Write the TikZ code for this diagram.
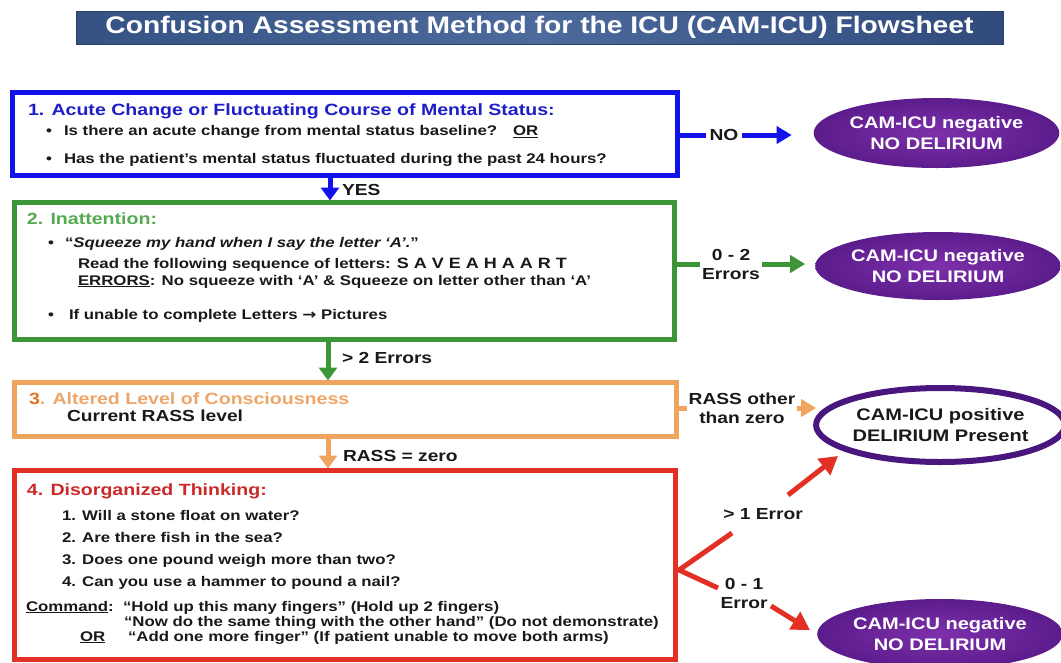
\documentclass[tikz,border=0pt]{standalone}
\usepackage{fontspec}
\setmainfont{Liberation Sans}
\newfontfamily\arrowfont{DejaVu Sans}
\usepackage{graphicx}
\usetikzlibrary{arrows.meta,shapes.geometric}
\definecolor{cBlue}{RGB}{18,18,235}
\definecolor{cBlueT}{RGB}{30,30,200}
\definecolor{cGreen}{RGB}{60,150,55}
\definecolor{cGreenT}{RGB}{85,170,80}
\definecolor{cOrange}{RGB}{240,165,95}
\definecolor{cOrangeT}{RGB}{238,165,105}
\definecolor{cOrangeD}{RGB}{225,115,35}
\definecolor{cRed}{RGB}{228,48,36}
\definecolor{cRedT}{RGB}{205,40,40}
\definecolor{cText}{RGB}{25,25,25}
\definecolor{cPurpD}{RGB}{92,28,140}
\definecolor{cPurpL}{RGB}{125,48,170}
\definecolor{cPurpB}{RGB}{72,22,125}
\definecolor{cBarL}{RGB}{52,82,132}
\definecolor{cBarM}{RGB}{76,106,156}
\definecolor{cBarR}{RGB}{48,74,124}
\newcommand{\sxx}[1]{\scalebox{1.2}[1]{#1}}
\newcommand{\fsz}[1]{\fontsize{#1}{#1}\selectfont}
\begin{document}
\begin{tikzpicture}[x=1pt,y=-1pt,
  every node/.style={inner sep=0pt, outer sep=0pt},
  stepbox/.style={draw, line width=5pt, rectangle},
  bodytxt/.style={anchor=base west, text=cText, font=\bfseries\fsz{14}},
  hdtxt/.style={anchor=base west, font=\bfseries\fsz{16.3}},
  lbl/.style={text=cText, font=\bfseries\fontsize{16}{19}\selectfont, align=center, inner sep=2pt},
  vflow/.style={line width=5pt, -{Triangle[width=18pt,length=13pt]}},
  hflow/.style={line width=5pt, -{Triangle[width=17pt,length=15pt]}},
  rflow/.style={line width=5pt, -{Triangle[width=20pt,length=18pt]}},
  hline/.style={line width=5pt},
  negell/.style={ellipse, shade, inner color=cPurpL, outer color=cPurpD, text=white,
    font=\bfseries\fontsize{16.7}{21}\selectfont, align=center},
]
\useasboundingbox (0,0) rectangle (1061,662);

% title bar
\node[minimum width=927pt, minimum height=33pt, left color=cBarL, right color=cBarR, middle color=cBarM,
  draw=cBarL!80!black, line width=0.6pt, text=white, font=\bfseries\fsz{24}] (title) at (539.5,27.5)
  {\resizebox{868pt}{\height}{Confusion Assessment Method for the ICU (CAM-ICU) Flowsheet}};

% boxes
\node[stepbox, draw=cBlue, minimum width=665pt, minimum height=83pt] (b1) at (345,134) {};
\node[stepbox, draw=cGreen, minimum width=660pt, minimum height=137pt] (b2) at (344.5,271) {};
\node[stepbox, draw=cOrange, minimum width=662pt, minimum height=54pt] (b3) at (345.5,409.5) {};
\node[stepbox, draw=cRed, minimum width=661pt, minimum height=189pt] (b4) at (345,565) {};

% box 1 text
\node[hdtxt, text=cBlueT] (t1) at (28,115) {\sxx{1. Acute Change or Fluctuating Course of Mental Status:}};
\node[bodytxt] (t1a) at (46,135.5) {\sxx{•}};
\node[bodytxt] (t1b) at (64,135.5) {\sxx{Is there an acute change from mental status baseline?\hspace{0.95em}\underline{OR}}};
\node[bodytxt] (t1c) at (46,163.5) {\sxx{•}};
\node[bodytxt] (t1d) at (64,163.5) {\sxx{Has the patient’s mental status fluctuated during the past 24 hours?}};

% box 2 text
\node[hdtxt, text=cGreenT] (t2) at (27,224.5) {\sxx{2. Inattention:}};
\node[bodytxt] (t2a) at (48,247) {\sxx{•}};
\node[bodytxt] (t2b) at (65,247) {\sxx{“\textit{Squeeze my hand when I say the letter ‘A’.}”}};
\node[bodytxt] (t2c) at (78,268) {\sxx{Read the following sequence of letters: {\fsz{15}S A V E A H A A R T}}};
\node[bodytxt] (t2d) at (78,285) {\sxx{\underline{ERRORS}: No squeeze with ‘A’ \& Squeeze on letter other than ‘A’}};
\node[bodytxt] (t2e) at (48,319) {\sxx{•}};
\node[bodytxt] (t2f) at (69,319) {\sxx{If unable to complete Letters {\arrowfont\bfseries →} Pictures}};

% box 3 text
\node[hdtxt, text=cOrangeT] (t3) at (29,404.5) {\sxx{\textcolor{cOrangeD}{3}. Altered Level of Consciousness}};
\node[bodytxt, font=\bfseries\fsz{16}] (t3a) at (67,421) {\sxx{Current RASS level}};

% box 4 text
\node[hdtxt, text=cRedT] (t4) at (27,495) {\sxx{4. Disorganized Thinking:}};
\node[bodytxt] (t4a) at (62,520) {\sxx{1. Will a stone float on water?}};
\node[bodytxt] (t4b) at (62,542) {\sxx{2. Are there fish in the sea?}};
\node[bodytxt] (t4c) at (62,564) {\sxx{3. Does one pound weigh more than two?}};
\node[bodytxt] (t4d) at (62,586) {\sxx{4. Can you use a hammer to pound a nail?}};
\node[bodytxt] (t4e) at (26,611) {\sxx{\underline{Command}:}};
\node[bodytxt] (t4f) at (123,611) {\sxx{“Hold up this many fingers” (Hold up 2 fingers)}};
\node[bodytxt] (t4g) at (124,626) {\sxx{“Now do the same thing with the other hand” (Do not demonstrate)}};
\node[bodytxt] (t4h) at (80,641) {\sxx{\underline{OR}}};
\node[bodytxt] (t4i) at (128,641) {\sxx{“Add one more finger” (If patient unable to move both arms)}};

% vertical flow
\coordinate (ax1) at (330,0);
\coordinate (ax2) at (328,0);
\draw[vflow, cBlue, shorten >=2pt] (b1.south -| ax1) -- (b2.north -| ax1);
\node[lbl, anchor=west] (yes) at (340,190) {\sxx{YES}};
\draw[vflow, cGreen, shorten >=2pt] (b2.south -| ax2) -- (b3.north -| ax2);
\node[lbl, anchor=west] (gt2) at (340,358) {\sxx{> 2 Errors}};
\draw[vflow, cOrange, shorten >=2pt] (b3.south -| ax2) -- (b4.north -| ax2);
\node[lbl, anchor=west] (rz) at (341,456) {\sxx{RASS = zero}};

% outcome ellipses
\node[negell, minimum width=243pt, minimum height=70pt] (neg1) at (936.5,133) {\sxx{CAM-ICU negative}\\\sxx{NO DELIRIUM}};
\node[negell, minimum width=240pt, minimum height=68pt] (neg2) at (938,266) {\sxx{CAM-ICU negative}\\\sxx{NO DELIRIUM}};
\node[ellipse, draw=cPurpB, line width=6pt, fill=white, minimum width=229pt, minimum height=74pt,
  text=cText, font=\bfseries\fontsize{16.7}{21}\selectfont, align=center] (pos) at (940.5,425)
  {\sxx{CAM-ICU positive}\\\sxx{DELIRIUM Present}};
\node[negell, minimum width=236pt, minimum height=70pt] (neg3) at (940,634) {\sxx{CAM-ICU negative}\\\sxx{NO DELIRIUM}};

% box 1 -> neg1
\node[lbl, inner sep=4pt] (no) at (724,135) {\sxx{NO}};
\draw[hline, cBlue] (b1.east |- no) -- (no.west);
\draw[hflow, cBlue, shorten >=22pt] (no.east) -- (no.east -| neg1.west);

% box 2 -> neg2
\node[lbl] (e02) at (731,264) {\sxx{0 - 2}\\\sxx{Errors}};
\draw[hline, cGreen] (b2.east |- e02) -- (e02.west);
\draw[hflow, cGreen, shorten >=10pt] (e02.east) -- (e02.east -| neg2.west);

% box 3 -> pos
\node[lbl] (rs) at (742,408) {\sxx{RASS other}\\\sxx{than zero}};
\draw[hline, cOrange] (b3.east |- rs) -- (rs.west);
\draw[hflow, cOrange] (rs.east) -- (rs.east -| pos.west);

% box 4 -> pos / neg3
\coordinate (split) at (679,570);
\coordinate (r1a) at (732,533);
\coordinate (r2a) at (718,588);
\draw[hline, cRed, line join=miter] (r1a) -- (split) -- (r2a);
\node[lbl] (gt1) at (763,514) {\sxx{> 1 Error}};
\coordinate (r1b) at (788,495);
\coordinate (r1end) at (838,456);
\draw[rflow, cRed] (r1b) -- (r1end);
\node[lbl] (le1) at (744,593) {\sxx{0 - 1}\\\sxx{Error}};
\coordinate (r2b) at (771,606);
\coordinate (r2end) at (810,630);
\draw[rflow, cRed] (r2b) -- (r2end);
\end{tikzpicture}
\end{document}
